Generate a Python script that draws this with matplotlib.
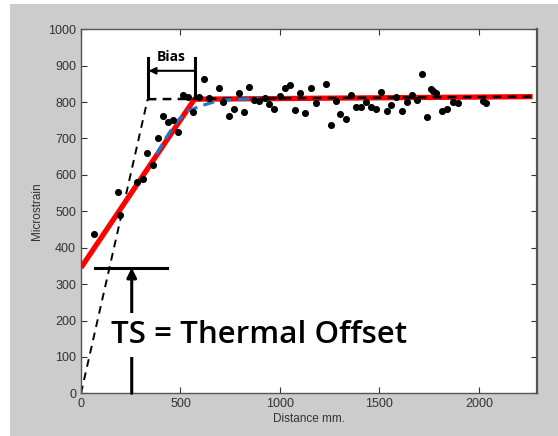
import matplotlib
matplotlib.use("Agg")
import matplotlib.pyplot as plt
from matplotlib.patches import Rectangle

# measured points
dist = [65, 184, 198, 280, 313, 334, 360, 386, 414, 439, 461, 490, 513, 540, 565,
        592, 617, 644, 696, 716, 743, 771, 796, 818, 845, 870, 895, 925, 947, 971,
        1001, 1026, 1051, 1076, 1102, 1127, 1155, 1180, 1229, 1256, 1281, 1303, 1330,
        1355, 1383, 1407, 1430, 1457, 1484, 1509, 1536, 1559, 1585, 1613, 1638, 1663,
        1689, 1714, 1739, 1759, 1767, 1786, 1814, 1839, 1868, 1893, 2021, 2034]
strain = [437, 552, 490, 581, 589, 659, 626, 702, 763, 746, 751, 719, 819, 813, 774,
          815, 864, 810, 838, 800, 761, 781, 824, 774, 841, 805, 803, 810, 796, 782,
          817, 838, 847, 778, 824, 771, 839, 798, 850, 738, 802, 767, 753,
          820, 787, 787, 800, 787, 782, 828, 776, 793, 813, 776, 800, 820,
          806, 877, 760, 835, 831, 824, 776, 782, 801, 798, 803, 798]

# fitted lines
red_x = [0, 570, 2270]
red_y = [345, 808, 815]
black_x = [0, 335, 2270]
black_y = [0, 808, 815]
blue_x = [380, 431, 481, 532, 599, 665, 730, 800, 900]
blue_y = [657, 705, 746, 774, 789, 800, 806, 808, 810]

x_ticks = [0, 500, 1000, 1500, 2000]
y_ticks = [0, 100, 200, 300, 400, 500, 600, 700, 800, 900, 1000]

bias_left, bias_right = 335, 573
ts_level = 345
ts_x = 255

fig = plt.figure(figsize=(5.58, 4.36), dpi=100, facecolor="white")
fig.patches.append(Rectangle((10/558, 0), 1, 432/436, transform=fig.transFigure,
                             facecolor="#cccccc", edgecolor="none", zorder=-10))
ax = fig.add_axes([81/558, 1-393.3/436, 456/558, 364/436])
ax.set_facecolor("white")

ax.plot(black_x[:2], black_y[:2], color="black", lw=1.4, ls=(0, (4, 3)), zorder=2)
ax.plot(red_x, red_y, color="#ff0000", lw=3.8, solid_capstyle="butt", zorder=3)
ax.plot(black_x[1:], black_y[1:], color="black", lw=1.8, ls=(0, (3.5, 2.5)), zorder=4)
ax.plot(blue_x, blue_y, color="#1f78c8", lw=2.3, ls=(0, (3.5, 2)), zorder=4)
ax.scatter(dist, strain, s=26, color="black", zorder=5, linewidths=0)

# Bias annotation
for bx in (bias_left, bias_right):
    ax.plot([bx, bx], [811, 920], color="black", lw=2.2, zorder=6)
ax.annotate("", xy=(bias_left + 5, 886), xytext=(bias_right, 886),
            arrowprops=dict(arrowstyle="-|>", color="black", lw=1.5,
                            mutation_scale=10, shrinkA=0, shrinkB=0), zorder=6)
ax.text((bias_left + bias_right) / 2, 906, "Bias", ha="center", va="bottom",
        fontsize=10, fontweight="bold", family="Open Sans", zorder=6)

# TS annotation
ax.plot([70, 431], [ts_level, ts_level], color="black", lw=2.2, zorder=6)
ax.annotate("", xy=(ts_x, ts_level), xytext=(ts_x, 0),
            arrowprops=dict(arrowstyle="-|>", color="black", lw=2.2,
                            mutation_scale=14, shrinkA=0, shrinkB=0), zorder=6)
ax.text(150, 160, "TS = Thermal Offset", ha="left", va="center",
        fontsize=22.5, fontweight="semibold", family="Open Sans", zorder=7,
        bbox=dict(facecolor="white", edgecolor="none", pad=5))

ax.set_xlim(0, 2292)
ax.set_ylim(0, 1000)
ax.set_xticks(x_ticks)
ax.set_yticks(y_ticks)
ax.tick_params(direction="in", top=True, right=True, length=4, width=0.8,
               labelsize=9, labelcolor="#333333", colors="#333333")
for lab in ax.get_xticklabels() + ax.get_yticklabels():
    lab.set_family("Liberation Sans")
for s in ax.spines.values():
    s.set_color("#555555")
    s.set_linewidth(1.0)
ax.spines["right"].set_linewidth(1.6)
ax.set_xlabel("Distance mm.", fontsize=8.5, color="#333333", family="Liberation Sans", labelpad=2)
ax.set_ylabel("Microstrain", fontsize=8.5, color="#333333", family="Liberation Sans", labelpad=4)

fig.savefig("out.png", dpi=100, facecolor=fig.get_facecolor())
